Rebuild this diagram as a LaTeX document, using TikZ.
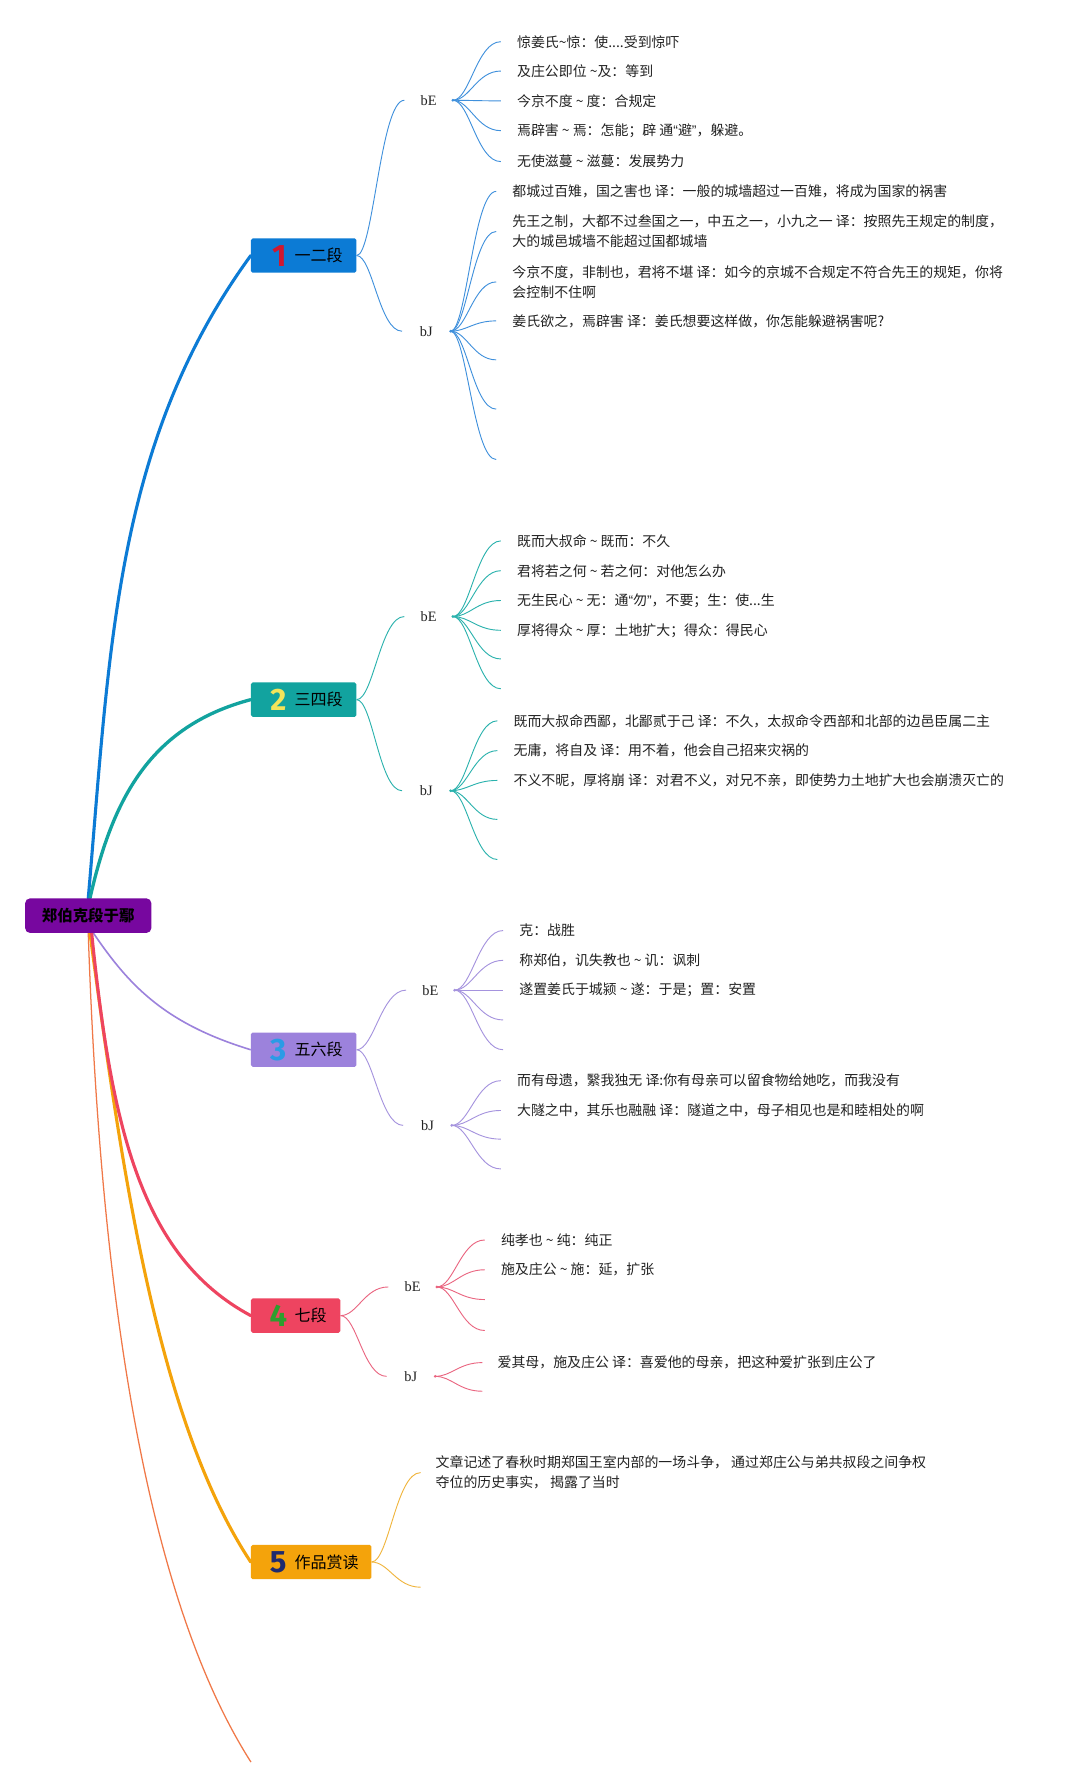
\documentclass[tikz,border=0pt]{standalone}
\usepackage{fontspec}
\setmainfont{Noto Sans CJK SC}
\newfontfamily\serifb{Liberation Serif}
\newfontfamily\latinq{Liberation Sans}
\newfontfamily\numfont{Fira Sans}
\usetikzlibrary{calc,backgrounds}
\definecolor{rootc}{HTML}{77079F}
\definecolor{c1}{HTML}{0C7BD5}
\definecolor{c2}{HTML}{12A39F}
\definecolor{c3}{HTML}{9C82DC}
\definecolor{c4}{HTML}{EE4460}
\definecolor{c5}{HTML}{F4A30B}
\definecolor{c6}{HTML}{F07848}
\definecolor{f1}{HTML}{3F90DC}
\definecolor{f2}{HTML}{2AB2AD}
\definecolor{f3}{HTML}{A593DE}
\definecolor{f4}{HTML}{EA6580}
\definecolor{f5}{HTML}{F0B53C}
\definecolor{d1}{HTML}{D01830}
\definecolor{d2}{HTML}{F3E45A}
\definecolor{d3}{HTML}{2A9BE6}
\definecolor{d4}{HTML}{2E9E2E}
\definecolor{d5}{HTML}{1E2A6E}
\definecolor{txt}{HTML}{222222}
\newcommand{\mytl}{\textasciitilde}
\newcommand{\myoq}{{\latinq “}}
\newcommand{\mycq}{{\latinq ”}}
\begin{document}
\begin{tikzpicture}[x=1pt,y=-1pt,
  sec/.style={rectangle, rounded corners=1.5, minimum height=30, inner sep=0},
  dig/.style={font=\numfont\bfseries\fontsize{27}{27}\selectfont, inner sep=0},
  lab/.style={font=\fontsize{14}{14}\selectfont, text=black, inner sep=0, anchor=west},
  bx/.style={font=\serifb\fontsize{12.5}{12.5}\selectfont, minimum width=42, inner sep=0, text=txt},
  tx/.style={font=\fontsize{12.15}{17.5}\selectfont, anchor=west, inner sep=0, align=left, text=txt},
  fanto/.style={to path={let \p1=(\tikztostart), \p2=(\tikztotarget) in .. controls ({\x1+0.35*(\x2-\x1)},\y1) and ({\x1+0.5*(\x2-\x1)},\y2) .. (\tikztotarget)}},
  br/.style={line width=0.8, fanto},
  mainbr/.style={line width=2.7, line cap=round}
]
\begin{scope}[on background layer]
\fill[white] (0,0) rectangle (937.2,1557.6);
\end{scope}
\useasboundingbox (0,0) rectangle (937.2,1557.6);

% root
\node[rectangle, rounded corners=4, fill=rootc, minimum width=110, minimum height=30, inner sep=0,
  font=\bfseries\fontsize{13.5}{13.5}\selectfont, text=black] (root) at (77,799) {郑伯克段于鄢};

% ---------- section 1 ----------
\node[sec, fill=c1, minimum width=92] (n1) at (265,223) {};
\node[dig, text=d1] (g1) at ([xshift=25]n1.west) {1};
\node[lab] (l1) at ([xshift=38]n1.west) {一二段};
\node[bx] (e1) at (374,87.5) {bE};
\node[bx] (j1) at (372,289) {bJ};
\node[tx] (t11) at (451,36.4) {惊姜氏\mytl 惊：使....受到惊吓};
\node[tx] (t12) at (451,62) {及庄公即位 \mytl 及：等到};
\node[tx] (t13) at (451,88) {今京不度 \mytl{} 度：合规定};
\node[tx] (t14) at (451,114) {焉辟害 \mytl{} 焉：怎能；辟 通\myoq 避\mycq，躲避。};
\node[tx] (t15) at (451,141) {无使滋蔓 \mytl{} 滋蔓：发展势力};
\node[tx] (u11) at (447,167) {都城过百雉，国之害也 译：一般的城墙超过一百雉，将成为国家的祸害};
\node[tx] (u12) at (447,202) {先王之制，大都不过叁国之一，中五之一，小九之一 译：按照先王规定的制度，\\大的城邑城墙不能超过国都城墙};
\node[tx] (u13) at (447,246) {今京不度，非制也，君将不堪 译：如今的京城不合规定不符合先王的规矩，你将\\会控制不住啊};
\node[tx] (u14) at (447,280) {姜氏欲之，焉辟害 译：姜氏想要这样做，你怎能躲避祸害呢?};
\coordinate (v15) at (433,314);
\coordinate (v16) at (433,357);
\coordinate (v17) at (433,401);

% ---------- section 2 ----------
\node[sec, fill=c2, minimum width=92] (n2) at (265,610.5) {};
\node[dig, text=d2] (g2) at ([xshift=24]n2.west) {2};
\node[lab] (l2) at ([xshift=38]n2.west) {三四段};
\node[bx] (e2) at (374,538) {bE};
\node[bx] (j2) at (372,690) {bJ};
\node[tx] (t21) at (451,472) {既而大叔命 \mytl{} 既而：不久};
\node[tx] (t22) at (451,498) {君将若之何 \mytl{} 若之何：对他怎么办};
\node[tx] (t23) at (451,524) {无生民心 \mytl{} 无：通\myoq 勿\mycq，不要；生：使...生};
\node[tx] (t24) at (451,550) {厚将得众 \mytl{} 厚：土地扩大；得众：得民心};
\coordinate (t25) at (437,575);
\coordinate (t26) at (437,601);
\node[tx] (u21) at (448,629) {既而大叔命西鄙，北鄙贰于己 译：不久，太叔命令西部和北部的边邑臣属二主};
\node[tx] (u22) at (448,655) {无庸，将自及 译：用不着，他会自己招来灾祸的};
\node[tx] (u23) at (448,681) {不义不昵，厚将崩 译：对君不义，对兄不亲，即使势力土地扩大也会崩溃灭亡的};
\coordinate (u24) at (434,715);
\coordinate (u25) at (434,750);

% ---------- section 3 ----------
\node[sec, fill=c3, minimum width=92] (n3) at (265,916) {};
\node[dig, text=d3] (g3) at ([xshift=24]n3.west) {3};
\node[lab] (l3) at ([xshift=38]n3.west) {五六段};
\node[bx] (e3) at (375.5,864) {bE};
\node[bx] (j3) at (373,982) {bJ};
\node[tx] (t31) at (453,812) {克：战胜};
\node[tx] (t32) at (453,838) {称郑伯，讥失教也 \mytl{} 讥：讽刺};
\node[tx] (t33) at (453,864) {遂置姜氏于城颍 \mytl{} 遂：于是；置：安置};
\coordinate (t34) at (439,890);
\coordinate (t35) at (439,916);
\node[tx] (u31) at (451,943) {而有母遗，繄我独无 译:你有母亲可以留食物给她吃，而我没有};
\node[tx] (u32) at (451,969) {大隧之中，其乐也融融 译：隧道之中，母子相见也是和睦相处的啊};
\coordinate (u33) at (437,994);
\coordinate (u34) at (437,1020);

% ---------- section 4 ----------
\node[sec, fill=c4, minimum width=78] (n4) at (258,1148) {};
\node[dig, text=d4] (g4) at ([xshift=24]n4.west) {4};
\node[lab] (l4) at ([xshift=38]n4.west) {七段};
\node[bx] (e4) at (360,1123) {bE};
\node[bx] (j4) at (358.5,1201) {bJ};
\node[tx] (t41) at (437,1082) {纯孝也 \mytl{} 纯：纯正};
\node[tx] (t42) at (437,1108) {施及庄公 \mytl{} 施：延，扩张};
\coordinate (t43) at (423,1134);
\coordinate (t44) at (423,1161);
\node[tx] (u41) at (434,1189) {爱其母，施及庄公 译：喜爱他的母亲，把这种爱扩张到庄公了};
\coordinate (u42) at (421,1214);

% ---------- section 5 ----------
\node[sec, fill=c5, minimum width=105] (n5) at (271.5,1363) {};
\node[dig, text=d5] (g5) at ([xshift=24]n5.west) {5};
\node[lab] (l5) at ([xshift=38]n5.west) {作品赏读};
\node[tx] (t51) at (380,1285) {文章记述了春秋时期郑国王室内部的一场斗争， 通过郑庄公与弟共叔段之间争权\\夺位的历史事实， 揭露了当时};
\coordinate (t52) at (367,1385);

\coordinate (tail) at (219,1537.6);

% ---------- main branches ----------
\begin{scope}[on background layer]
\draw[mainbr, c1] (root.north) .. controls (96,565) and (100,386) .. (n1.west);
\draw[mainbr, c2, line width=2.9] ([xshift=1.5]root.north) .. controls (98.3,696.7) and (131,633.8) .. (n2.west);
\draw[line width=1.4, c3] ([xshift=4.5]root.south) .. controls (111.8,858.7) and (142.5,892.8) .. (n3.west);
\draw[line width=1.1, c6] (root.south) .. controls (85,1050) and (112,1370) .. (tail);
\draw[mainbr, c5] ([xshift=1.5]root.south) .. controls (105,1011) and (136,1238) .. (n5.west);
\draw[mainbr, c4] ([xshift=3]root.south) .. controls (97,981) and (122,1096) .. (n4.west);
\end{scope}

% ---------- sub branches ----------
\begin{scope}[f1]
\draw[br] (n1.east) to (e1.west);
\draw[br] (n1.east) to (j1.west);
\foreach \t in {t11,t12,t13,t14,t15} \draw[br] (e1.east) to ([xshift=-14]\t.west);
\foreach \t in {u11,u12,u13,u14} \draw[br] (j1.east) to ([xshift=-14]\t.west);
\foreach \t in {v15,v16,v17} \draw[br] (j1.east) to (\t);
\fill (e1.east) circle (1.3); \fill (j1.east) circle (1.3);
\end{scope}

\begin{scope}[f2]
\draw[br] (n2.east) to (e2.west);
\draw[br] (n2.east) to (j2.west);
\foreach \t in {t21,t22,t23,t24} \draw[br] (e2.east) to ([xshift=-14]\t.west);
\foreach \t in {t25,t26} \draw[br] (e2.east) to (\t);
\foreach \t in {u21,u22,u23} \draw[br] (j2.east) to ([xshift=-14]\t.west);
\foreach \t in {u24,u25} \draw[br] (j2.east) to (\t);
\fill (e2.east) circle (1.3); \fill (j2.east) circle (1.3);
\end{scope}

\begin{scope}[f3]
\draw[br] (n3.east) to (e3.west);
\draw[br] (n3.east) to (j3.west);
\foreach \t in {t31,t32,t33} \draw[br] (e3.east) to ([xshift=-14]\t.west);
\foreach \t in {t34,t35} \draw[br] (e3.east) to (\t);
\foreach \t in {u31,u32} \draw[br] (j3.east) to ([xshift=-14]\t.west);
\foreach \t in {u33,u34} \draw[br] (j3.east) to (\t);
\fill (e3.east) circle (1.3); \fill (j3.east) circle (1.3);
\end{scope}

\begin{scope}[f4]
\draw[br] (n4.east) to (e4.west);
\draw[br] (n4.east) to (j4.west);
\foreach \t in {t41,t42} \draw[br] (e4.east) to ([xshift=-14]\t.west);
\foreach \t in {t43,t44} \draw[br] (e4.east) to (\t);
\draw[br] (j4.east) to ([xshift=-13]u41.west);
\draw[br] (j4.east) to (u42);
\fill (e4.east) circle (1.3); \fill (j4.east) circle (1.3);
\end{scope}

\begin{scope}[f5]
\draw[br] (n5.east) to ([xshift=-13]t51.west);
\draw[br] (n5.east) to (t52);
\end{scope}
\end{tikzpicture}
\end{document}
